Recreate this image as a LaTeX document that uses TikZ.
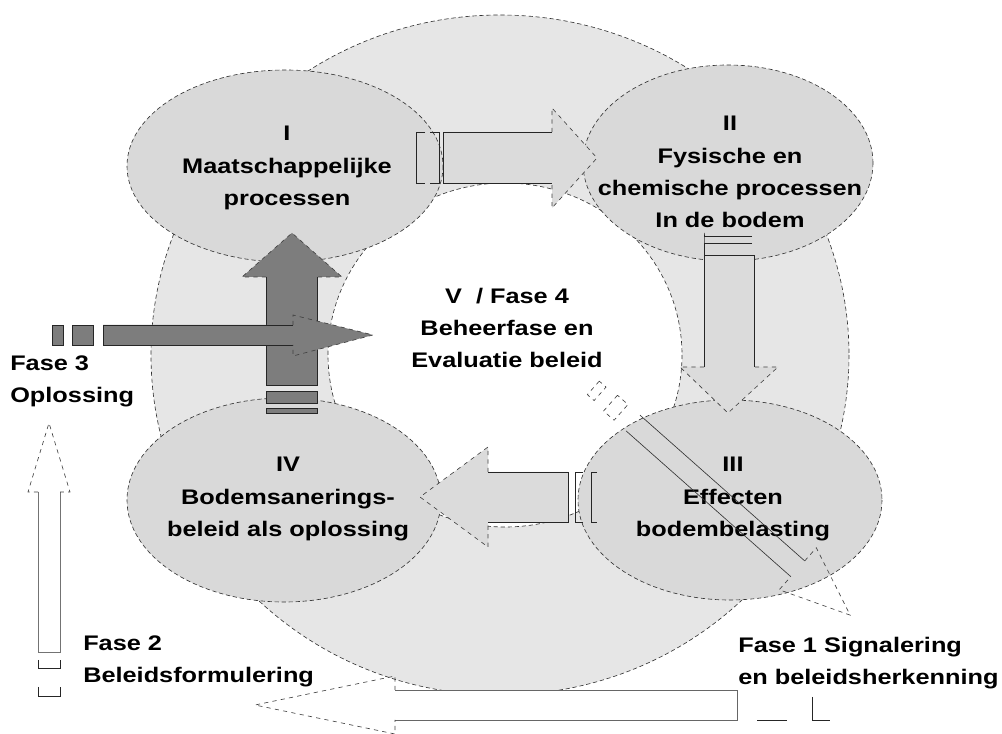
\documentclass[tikz,border=0pt]{standalone}
\usepackage{fontspec}
\setmainfont{Liberation Sans}[FakeStretch=1.2]
\definecolor{ringgrijs}{HTML}{E6E6E6}
\definecolor{fasegrijs}{HTML}{D9D9D9}
\definecolor{pijlgrijs}{HTML}{DBDBDB}
\definecolor{donkergrijs}{HTML}{7D7D7D}
\begin{document}
\begin{tikzpicture}[x=0.025cm,y=-0.025cm,
  every node/.style={font=\fontsize{15pt}{22.9pt}\selectfont\bfseries,inner sep=0pt},
  rand/.style={draw=black!80,densely dashed,line width=0.45pt},
  kop/.style={draw=black!75,dashed,line width=0.45pt},
  lijn/.style={draw=black!85,line width=0.6pt}]
\useasboundingbox (0,0) rectangle (1002,734);
% ring en midden
\draw[rand,fill=ringgrijs] (500,355) ellipse (349 and 340);
\draw[rand,fill=white] (505,355) ellipse (177 and 172);
% de vier fasen
\draw[rand,fill=fasegrijs] (285,166) ellipse (158 and 96);
\draw[rand,fill=fasegrijs] (728,163) ellipse (145 and 98);
\draw[rand,fill=fasegrijs] (730,500) ellipse (152 and 100);
\draw[rand,fill=fasegrijs] (284,500) ellipse (157 and 102);
% I -> II
\fill[pijlgrijs] (443,132) -- (552,132) -- (552,108) -- (597,158) -- (552,208) -- (552,183) -- (443,183) -- cycle;
\draw[lijn] (552,132) -- (443,132) -- (443,183) -- (552,183);
\draw[kop] (552,132) -- (552,108) -- (597,158) -- (552,208) -- (552,183);
\draw[lijn] (425,132) -- (416,132) -- (416,183) -- (425,183);
\draw[lijn] (430,132) -- (439,132) -- (439,183) -- (430,183);
% II -> III
\fill[pijlgrijs] (704,255) -- (754,255) -- (754,367) -- (778,367) -- (728,413) -- (680,367) -- (704,367) -- cycle;
\draw[lijn] (704,367) -- (704,255) -- (754,255) -- (754,367);
\draw[kop] (704,367) -- (680,367) -- (728,413) -- (778,367) -- (754,367);
\draw[lijn] (752,236) -- (704,236) -- (704,233) -- (704,255);
\draw[lijn] (752,243) -- (704,243);
% III -> IV
\fill[pijlgrijs] (568,472) -- (488,472) -- (488,447) -- (420,497) -- (488,547) -- (488,522) -- (568,522) -- cycle;
\draw[lijn] (488,472) -- (568,472) -- (568,522) -- (488,522);
\draw[kop] (488,472) -- (488,447) -- (420,497) -- (488,547) -- (488,522);
\draw[lijn] (583,472) -- (575,472) -- (575,522) -- (583,522);
\draw[lijn] (597,472) -- (591,472) -- (591,522) -- (597,522);
% IV -> I
\fill[donkergrijs] (266,385) -- (266,277) -- (242,277) -- (292,233) -- (342,277) -- (317,277) -- (317,385) -- cycle;
\draw[lijn] (266,277) -- (266,385) -- (317,385) -- (317,277);
\draw[kop] (266,277) -- (242,277) -- (292,233) -- (342,277) -- (317,277);
\draw[lijn,fill=donkergrijs] (266,391) rectangle (317,403);
\draw[lijn,fill=donkergrijs] (266,408) rectangle (317,413);
% Fase 3
\draw[lijn,fill=donkergrijs] (52,325) rectangle (63,345);
\draw[lijn,fill=donkergrijs] (72,325) rectangle (93,345);
\fill[donkergrijs] (103,325) -- (293,325) -- (293,315) -- (373,335) -- (293,356) -- (293,345) -- (103,345) -- cycle;
\draw[lijn] (293,325) -- (103,325) -- (103,345) -- (293,345);
\draw[kop] (293,325) -- (293,315) -- (373,335) -- (293,356) -- (293,345);
% Fase 2
\draw[lijn,draw=black!55,fill=white] (38,492) -- (38,652) -- (60,652) -- (60,492);
\draw[kop] (38,492) -- (28,492) -- (49,423) -- (70,492) -- (60,492);
\draw[lijn] (38,660) -- (38,668) -- (60,668) -- (60,660);
\draw[lijn] (38,687) -- (38,696) -- (60,696) -- (60,687);
% onderste pijl
\draw[lijn,draw=black!60,fill=white] (395,690) -- (737,690) -- (737,720) -- (395,720);
\draw[kop] (395,690) -- (395,676) -- (255,705) -- (395,734) -- (395,720);
\draw[lijn] (757,720) -- (787,720);
\draw[lijn] (812,697) -- (812,720) -- (830,720);
% teksten
\node[align=center] (een) at (287,168) {I\\Maatschappelijke\\processen};
\node[align=center] (twee) at (730,172) {II\\Fysische en\\chemische processen\\In de bodem};
\node[align=center] (drie) at (733,499) {III\\Effecten\\bodembelasting};
\node[align=center] (vier) at (288,499) {IV\\Bodemsanerings-\\beleid als oplossing};
\node[align=center] (vijf) at (507,328) {V\ \ / Fase 4\\Beheerfase en\\Evaluatie beleid};
\node[align=left,anchor=west] (fase3) at (10,381) {Fase 3\\Oplossing};
\node[align=left,anchor=west] (fase2) at (83,661) {Fase 2\\Beleidsformulering};
\node[align=left,anchor=west] (fase1) at (738,663) {Fase 1 Signalering\\en beleidsherkenning};
% Fase 1
\begin{scope}[shift={(633,423)},rotate=-41.5]
\draw[draw=black!80,line width=0.45pt] (0,-10.5) -- (220,-10.5);
\draw[draw=black!80,line width=0.45pt] (0,10.5) -- (220,10.5);
\draw[kop] (220,-10.5) -- (220,-28) -- (290,0) -- (220,28) -- (220,10.5);
\draw[kop] (-30,-10.5) rectangle (-16,10.5);
\draw[kop] (-53,-9) rectangle (-44,9);
\end{scope}
\end{tikzpicture}
\end{document}
